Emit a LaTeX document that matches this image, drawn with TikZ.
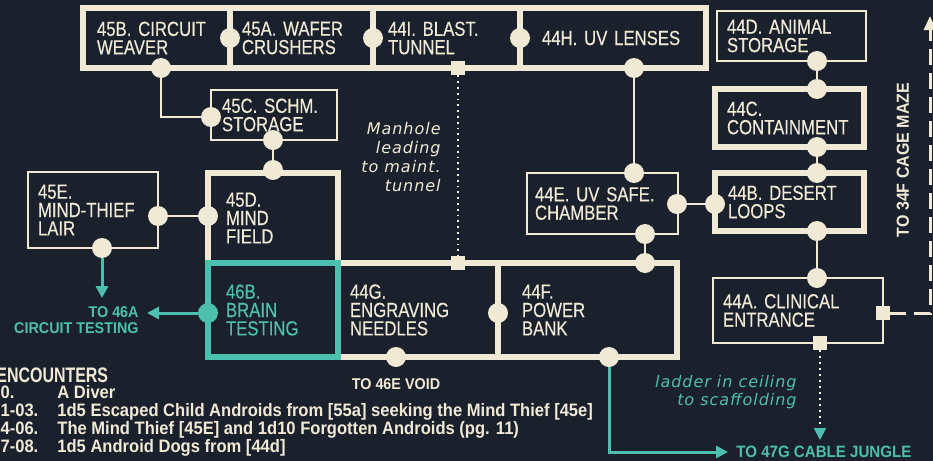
\documentclass[tikz,border=0pt]{standalone}
\usepackage{fontspec}
\setmainfont[FakeStretch=0.82,FakeBold=0.3]{Liberation Sans}
\newfontfamily\tagfont[FakeStretch=0.92]{Liberation Sans}
\newfontfamily\headfont[FakeStretch=0.76]{Liberation Sans}
\newfontfamily\handfont[LetterSpace=6]{DejaVu Sans}
\usetikzlibrary{arrows.meta}
\definecolor{board}{HTML}{1B212C}
\definecolor{cream}{HTML}{EFE9D6}
\definecolor{mint}{HTML}{4DBFAE}

\begin{document}
\begin{tikzpicture}[x=0.5pt,y=-0.5pt,
  room/.style n args={3}{draw=cream, line width=1.2pt, inner sep=0pt,
    minimum width=#1*0.5pt, minimum height=#2*0.5pt,
    text width=(#1-2*#3)*0.5pt, align=left, text=cream,
    font=\fontsize{10.2}{9.2}\selectfont},
  heavy/.style={line width=3pt},
  dot/.style={circle, fill=cream, minimum size=10pt, inner sep=0pt},
  hatch/.style={rectangle, fill=cream, minimum size=7pt, inner sep=0pt},
  link/.style={draw=cream, line width=1.2pt},
  exit/.style={draw=mint, line width=1.5pt, -{Triangle[length=6pt,width=6pt]}},
  tag/.style={font=\tagfont\bfseries\fontsize{7.8}{8}\selectfont, align=right, inner sep=0pt},
  note/.style={font=\handfont\itshape\fontsize{8}{9.4}\selectfont, inner sep=0pt, align=right}]

  \fill[board] (0,0) rectangle (933,461);
  \useasboundingbox (0,0) rectangle (933,461);

  % level 45 / 44 top row
  \node[room={147}{60}{14}, heavy] (r45b) at (156.5,38) {45B. CIRCUIT\\WEAVER};
  \node[room={143}{60}{12}, heavy] (r45a) at (301.5,38) {45A. WAFER\\CRUSHERS};
  \node[room={147}{60}{15}, heavy] (r44i) at (446.5,38) {44I. BLAST.\\TUNNEL};
  \node[room={186}{60}{22}, heavy] (r44h) at (613,38) {44H. UV LENSES};

  \node[room={126}{50}{11}] (r45c) at (274,115) {45C. SCHM.\\STORAGE};
  \node[room={130}{90}{18}, heavy] (r45d) at (273,218) {45D.\\MIND\\FIELD};
  \node[room={130}{76}{10}] (r45e) at (93,210) {45E.\\MIND-THIEF\\LAIR};
  \node[room={160}{94}{12}, heavy] (r44g) at (418,310) {44G.\\ENGRAVING\\NEEDLES};
  \node[room={179}{94}{24}, heavy] (r44f) at (587.5,310) {44F.\\POWER\\BANK};
  \node[room={130}{94}{18}, heavy, draw=mint, text=mint] (r46b) at (273,310) {46B.\\BRAIN\\TESTING};

  \node[room={151}{61}{8}] (r44e) at (602.5,203.5) {44E. UV SAFE.\\CHAMBER};
  \node[room={149}{50}{10}] (r44d) at (791.5,36) {44D. ANIMAL\\STORAGE};
  \node[room={149}{58}{12}, heavy] (r44c) at (789.5,118) {44C.\\CONTAINMENT};
  \node[room={149}{58}{13}, heavy] (r44b) at (789.5,202) {44B. DESERT\\LOOPS};
  \node[room={170}{65}{10}] (r44a) at (798,310.5) {44A. CLINICAL\\ENTRANCE};

  % doors
  \node[dot] (j45ba) at (230,38) {};
  \node[dot] (j45ai) at (373,38) {};
  \node[dot] (j44ih) at (520,38) {};
  \node[dot] (j45b) at (161,68) {};
  \node[hatch] (h44i) at (458,68) {};
  \node[dot] (j44h) at (634,68) {};
  \node[dot] (j45cw) at (211,117) {};
  \node[dot] (j45cs) at (273,140) {};
  \node[dot] (j45dn) at (r45d.north) {};
  \node[dot] (j45dw) at (208,216) {};
  \node[dot] (j45ee) at (158,216) {};
  \node[dot] (j45es) at (102,248) {};
  \node[dot, fill=mint] (j46bw) at (208,313) {};
  \node[hatch] (h44g) at (458,263) {};
  \node[dot] (j44fn) at (645,263) {};
  \node[dot] (j44gf) at (498,313) {};
  \node[dot] (j44gs) at (396,357) {};
  \node[dot] (j44fs) at (609,357) {};
  \node[dot] (j44en) at (634,173) {};
  \node[dot] (j44ee) at (677,204) {};
  \node[dot] (j44es) at (645,234) {};
  \node[dot] (j44ds) at (817,61) {};
  \node[dot] (j44cn) at (817,89) {};
  \node[dot] (j44cs) at (817,147) {};
  \node[dot] (j44bn) at (817,173) {};
  \node[dot] (j44bw) at (715,204) {};
  \node[dot] (j44bs) at (817,231) {};
  \node[dot] (j44an) at (817,278) {};
  \node[hatch] (h44ae) at (883,313) {};
  \node[hatch] (h44as) at (820,343) {};

  % labels
  \node[tag, text=mint, anchor=east] (t46a) at (139,320) {TO 46A\\CIRCUIT TESTING};
  \node[tag, text=cream] (t46e) at (396,384) {TO 46E VOID};
  \node[tag, text=mint, anchor=west, font=\tagfont\bfseries\fontsize{8.2}{8}\selectfont] (t47g) at (736,452) {TO 47G CABLE JUNGLE};
  \node[tag, text=cream, rotate=90, font=\tagfont\bfseries\fontsize{8.7}{8}\selectfont] (t34f) at (903,160) {TO 34F CAGE MAZE};
  \node[note, text=cream, anchor=east] (manhole) at (441,157) {Manhole\\leading\\to maint.\\tunnel};
  \node[note, text=mint, anchor=east] (ladder) at (797,392) {ladder in ceiling\\to scaffolding};

  \coordinate (c34f) at (930,313);
  \coordinate (e34f) at (930,16);
  \coordinate (e47g) at (820,440);

  % passages
  \draw[link] (j45b) |- (j45cw);
  \draw[link] (j45cs) -- (j45dn);
  \draw[link] (j45ee) -- (j45dw);
  \draw[link] (j44h) -- (j44en);
  \draw[link] (j44ee) -- (j44bw);
  \draw[link] (j44es) -- (j44fn);
  \draw[link] (j44ds) -- (j44cn);
  \draw[link] (j44cs) -- (j44bn);
  \draw[link] (j44bs) -- (j44an);
  \draw[draw=cream!70, line width=0.9pt, dotted] (h44i) -- (h44g);
  \draw[draw=cream, line width=1.5pt, dash pattern=on 8pt off 4pt,
    -{Triangle[length=7pt,width=6pt]}] (h44ae) -- (c34f) -- (e34f);
  \draw[draw=cream!60, line width=1pt, dotted,
    -{Triangle[length=6pt,width=6pt,color=mint]}] (h44as) -- (e47g);
  \draw[exit, shorten >=4pt] (j45es) -- (j45es |- t46a.north);
  \draw[exit, shorten >=4pt] (j46bw) -- (j46bw -| t46a.east);
  \draw[exit, shorten >=4pt] (j44fs) |- (t47g.west);

  % encounter table
  \node[anchor=base west, inner sep=0pt, text=cream,
    font=\headfont\bfseries\fontsize{10.5}{10}\selectfont] (enc) at (-4,382) {ENCOUNTERS};
  \node[anchor=base west, inner sep=0pt, text=cream,
    font=\tagfont\bfseries\fontsize{9}{8.4}\selectfont] (enclist) at (-9,398) {%
    \begin{tabular}[t]{@{}p{33pt}@{}l@{}}
      00. & A Diver\\
      01-03. & 1d5 Escaped Child Androids from [55a] seeking the Mind Thief [45e]\\
      04-06. & The Mind Thief [45E] and 1d10 Forgotten Androids (pg. 11)\\
      07-08. & 1d5 Android Dogs from [44d]
    \end{tabular}};
\end{tikzpicture}
\end{document}
